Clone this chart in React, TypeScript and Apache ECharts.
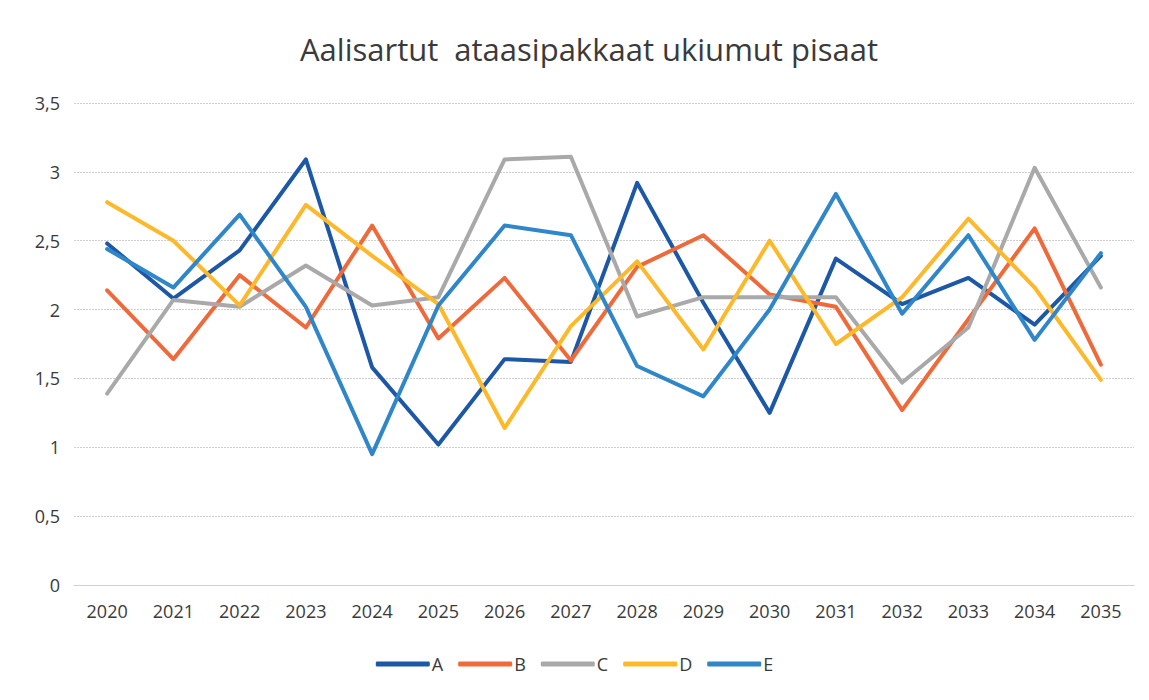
import React, { useEffect, useRef } from "react";
import * as echarts from "echarts";

const years = ["2020","2021","2022","2023","2024","2025","2026","2027","2028","2029","2030","2031","2032","2033","2034","2035"];
const seriesA = [2.48, 2.08, 2.43, 3.09, 1.58, 1.02, 1.64, 1.62, 2.92, 2.05, 1.25, 2.37, 2.04, 2.23, 1.89, 2.39];
const seriesB = [2.14, 1.64, 2.25, 1.87, 2.61, 1.79, 2.23, 1.63, 2.31, 2.54, 2.11, 2.02, 1.27, 1.93, 2.59, 1.6];
const seriesC = [1.39, 2.07, 2.02, 2.32, 2.03, 2.09, 3.09, 3.11, 1.95, 2.09, 2.09, 2.09, 1.47, 1.87, 3.03, 2.16];
const seriesD = [2.78, 2.5, 2.03, 2.76, 2.39, 2.04, 1.14, 1.88, 2.35, 1.71, 2.5, 1.75, 2.09, 2.66, 2.16, 1.49];
const seriesE = [2.44, 2.16, 2.69, 2.02, 0.95, 2.03, 2.61, 2.54, 1.59, 1.37, 2.0, 2.84, 1.97, 2.54, 1.78, 2.41];
const names = ["A", "B", "C", "D", "E"];
const colors = ["#1c58a6", "#ef6a3a", "#a9a9a9", "#fdb92a", "#2f86c9"];
const title = "Aalisartut  ataasipakkaat ukiumut pisaat";

export default function App() {
  const ref = useRef<HTMLDivElement>(null);
  useEffect(() => {
    if (!ref.current) return;
    const chart = echarts.init(ref.current, undefined, { renderer: "svg" });
    const data = [seriesA, seriesB, seriesC, seriesD, seriesE];
    const font = "'Open Sans', 'Liberation Sans', sans-serif";
    chart.setOption({
      animation: false,
      backgroundColor: "#ffffff",
      title: {
        text: title,
        left: 576,
        textAlign: "center",
        top: 20,
        textStyle: { fontFamily: font, fontSize: 31, fontWeight: "normal", color: "#3a3a3a" },
      },
      grid: { left: 66, right: 7, top: 95, bottom: 107, containLabel: false },
      legend: {
        bottom: 14,
        left: "center",
        itemWidth: 54,
        itemHeight: 5,
        itemGap: 15,
        icon: "roundRect",
        textStyle: { fontFamily: font, fontSize: 18, color: "#3a3a3a", padding: [0, 0, 0, -3] },
        data: names,
      },
      xAxis: {
        type: "category",
        data: years,
        boundaryGap: true,
        axisLine: { show: true, lineStyle: { color: "#d0d0d0" } },
        axisTick: { show: false },
        axisLabel: { fontFamily: font, fontSize: 18, color: "#3a3a3a", margin: 17 },
      },
      yAxis: {
        type: "value",
        min: 0,
        max: 3.5,
        interval: 0.5,
        axisLine: { show: false },
        axisTick: { show: false },
        axisLabel: {
          fontFamily: font,
          fontSize: 18,
          color: "#3a3a3a",
          margin: 14,
          formatter: (v: number) => String(v).replace(".", ","),
        },
        splitLine: { lineStyle: { color: "#cfcfcf", width: 1, type: [2, 1] } },
      },
      series: names.map((n, i) => ({
        name: n,
        type: "line",
        data: data[i],
        symbol: "none",
        lineStyle: { width: 4, color: colors[i], cap: "round", join: "round" },
        itemStyle: { color: colors[i] },
      })),
    });
    return () => chart.dispose();
  }, []);
  return <div ref={ref} style={{ width: 1133, height: 684 }} />;
}
